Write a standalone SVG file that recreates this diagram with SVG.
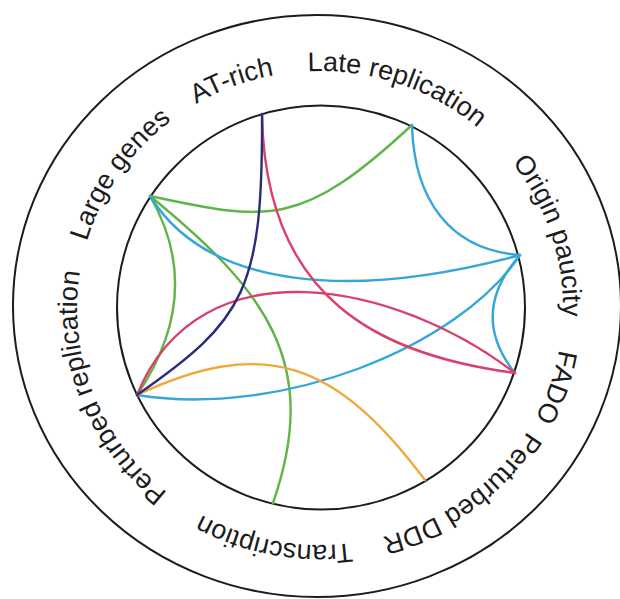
<svg xmlns="http://www.w3.org/2000/svg" xmlns:xlink="http://www.w3.org/1999/xlink" width="620" height="599" viewBox="0 0 620 599">
  <style>
    .ring { fill: none; stroke: #1c1c1c; stroke-width: 2; }
    .label { font-family: "Liberation Sans", Arial, sans-serif; font-size: 27px; fill: #1c1c1c; }
    .link { fill: none; stroke-width: 2.4; stroke-linecap: round; }
    .green { stroke: #5fb548; }
    .blue { stroke: #36a6d8; }
    .pink { stroke: #d9406c; }
    .navy { stroke: #2b2b7a; }
    .orange { stroke: #f0a83a; }
  </style>
  <defs>
    <!-- label baselines: clockwise arcs around the ring, text centred on each -->
    <path id="arc-late" d="M194.9,104.8 A243,237 0 0 1 546.9,223.1"/>
    <path id="arc-at" d="M90.2,230.8 A243,237 0 0 1 437.8,100.7"/>
    <path id="arc-large" d="M86.4,373.3 A243,237 0 0 1 294.6,72.3"/>
    <path id="arc-prep" d="M240.9,532.1 A243,237 0 0 1 107.5,193.1"/>
    <path id="arc-trans" d="M472.9,492.2 A243,237 0 0 1 107.5,422.9"/>
    <path id="arc-ddr" d="M562.7,320.4 A243,237 0 0 1 265.3,538.9"/>
    <path id="arc-fado" d="M527.6,184.9 A243,237 0 0 1 408.3,528.8"/>
    <path id="arc-origin" d="M412.2,88.7 A243,237 0 0 1 525.4,434.7"/>
  </defs>

  <rect width="620" height="599" fill="#ffffff"/>

  <g id="rings">
    <ellipse class="ring" cx="317" cy="306" rx="304" ry="291"/>
    <ellipse class="ring" cx="321" cy="307.5" rx="204" ry="202"/>
  </g>

  <g id="connectors">
    <path class="link green" d="M150,196 C270,222 302,227 412,125"/>
    <path class="link green" d="M150,196 C265,290 322,362 273,503"/>
    <path class="link green" d="M150,196 Q206,293 137,395"/>
    <path class="link blue" d="M412,125 C414,200 450,250 520,255"/>
    <path class="link blue" d="M150,196 C208,290 353,300 520,255"/>
    <path class="link blue" d="M520,255 Q468,314 515,373"/>
    <path class="link blue" d="M520,255 C458,348 280,418 137,395"/>
    <path class="link pink" d="M262,114 C265,300 380,355 515,373"/>
    <path class="link pink" d="M137,395 C200,240 398,283 515,373"/>
    <path class="link orange" d="M137,395 C263,336 335,360 425,480"/>
    <path class="link navy" d="M262,114 C263,290 245,320 137,395"/>
  </g>

  <g id="node-late-replication">
    <text class="label"><textPath href="#arc-late" xlink:href="#arc-late" startOffset="50%" text-anchor="middle">Late replication</textPath></text>
  </g>
  <g id="node-at-rich">
    <text class="label"><textPath href="#arc-at" xlink:href="#arc-at" startOffset="50%" text-anchor="middle">AT-rich</textPath></text>
  </g>
  <g id="node-large-genes">
    <text class="label"><textPath href="#arc-large" xlink:href="#arc-large" startOffset="50%" text-anchor="middle">Large genes</textPath></text>
  </g>
  <g id="node-perturbed-replication">
    <text class="label"><textPath href="#arc-prep" xlink:href="#arc-prep" startOffset="50%" text-anchor="middle">Perturbed replication</textPath></text>
  </g>
  <g id="node-transcription">
    <text class="label"><textPath href="#arc-trans" xlink:href="#arc-trans" startOffset="50%" text-anchor="middle">Transcription</textPath></text>
  </g>
  <g id="node-perturbed-ddr">
    <text class="label"><textPath href="#arc-ddr" xlink:href="#arc-ddr" startOffset="50%" text-anchor="middle">Perturbed DDR</textPath></text>
  </g>
  <g id="node-fado">
    <text class="label"><textPath href="#arc-fado" xlink:href="#arc-fado" startOffset="50%" text-anchor="middle">FADO</textPath></text>
  </g>
  <g id="node-origin-paucity">
    <text class="label"><textPath href="#arc-origin" xlink:href="#arc-origin" startOffset="50%" text-anchor="middle">Origin paucity</textPath></text>
  </g>
</svg>
